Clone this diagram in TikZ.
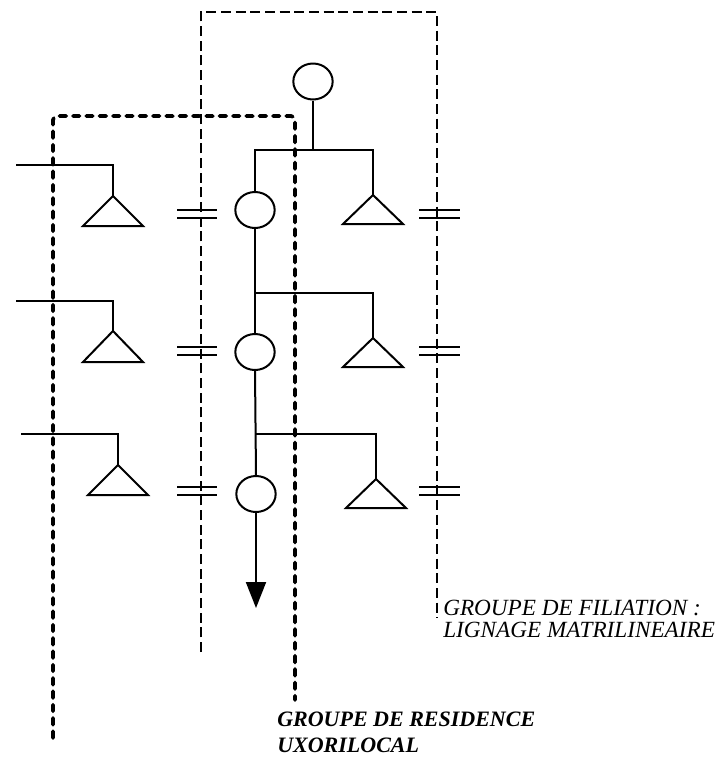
\documentclass[tikz,border=0pt]{standalone}
\usepackage{fontspec}
\setmainfont{Liberation Serif}
\usetikzlibrary{shapes.geometric,arrows.meta}
\tikzset{
  femme/.style={draw,ellipse,line width=1.5pt,minimum width=29.5pt,minimum height=27pt,inner sep=0pt},
  lien/.style={line width=1.5pt},
  filiation/.style={line width=1.1pt,dash pattern=on 7.5pt off 3.5pt},
  residence/.style={line width=2.8pt,dash pattern=on 5pt off 5pt,line cap=round,line join=round,rounded corners=3pt},
}
% homme: triangle hanging from its apex, #4 = height
\newcommand{\homme}[4]{%
  \coordinate (#1) at (#2,#3);
  \draw[lien] (#1) -- ++(-30,#4) -- ++(60,0) -- cycle;}
\begin{document}
\begin{tikzpicture}[x=0.75pt,y=-0.75pt]
\useasboundingbox (0,0) rectangle (718,758);
% groupe de filiation
\draw[filiation] (201,652) -- (201,12) -- (437,12) -- (437,618);
% groupe de residence
\draw[residence] (53,738) -- (53,116) -- (295,116) -- (295,700);
% femmes de la lignee
\node[femme] (w0) at (313,81.5) {};
\node[femme] (w1) at (255,210) {};
\node[femme] (w2) at (255,352) {};
\node[femme] (w3) at (256,494) {};
% freres
\homme{b1}{373}{195}{29}
\homme{b2}{373}{338}{29}
\homme{b3}{376}{479}{29}
% maris
\homme{h1}{113}{196}{30}
\homme{h2}{113}{331}{31}
\homme{h3}{118}{465}{30}
% fratries
\coordinate (s1) at (0,150);
\coordinate (s2) at (0,293);
\coordinate (s3) at (0,434);
\draw[lien] (w0.south) -- (w0 |- s1);
\draw[lien] (w1.north) -- (w1 |- s1) -| (b1);
\draw[lien] (w1.south) -- (w2.north);
\draw[lien] (w2 |- s2) -| (b2);
\draw[lien] (w2.south) -- (w3.north);
\draw[lien] (w3 |- s3) -| (b3);
% maris venus d'ailleurs
\coordinate (m1) at (16,165);
\coordinate (m2) at (16,301);
\coordinate (m3) at (21,434);
\draw[lien] (m1) -| (h1);
\draw[lien] (m2) -| (h2);
\draw[lien] (m3) -| (h3);
% alliances
\foreach \y in {210,347,487}
  \draw[lien] (177,\y) -- (217,\y) (177,\y+7.5) -- (217,\y+7.5)
              (419,\y) -- (460,\y) (419,\y+7.5) -- (460,\y+7.5);
% descendance
\coordinate (d) at (256,608);
\draw[lien,-{Triangle[length=19.5pt,width=15pt]}] (w3.south) -- (d);
% legendes
\node[anchor=north west,inner sep=0pt,align=left,font=\fontsize{17.4}{16.5}\selectfont\itshape] (lf) at (443,600) {GROUPE DE FILIATION :\\LIGNAGE MATRILINEAIRE};
\node[anchor=north west,inner sep=0pt,align=left,font=\fontsize{16.5}{19.5}\selectfont\bfseries\itshape] (lr) at (277,712) {GROUPE DE RESIDENCE\\UXORILOCAL};
\end{tikzpicture}
\end{document}
